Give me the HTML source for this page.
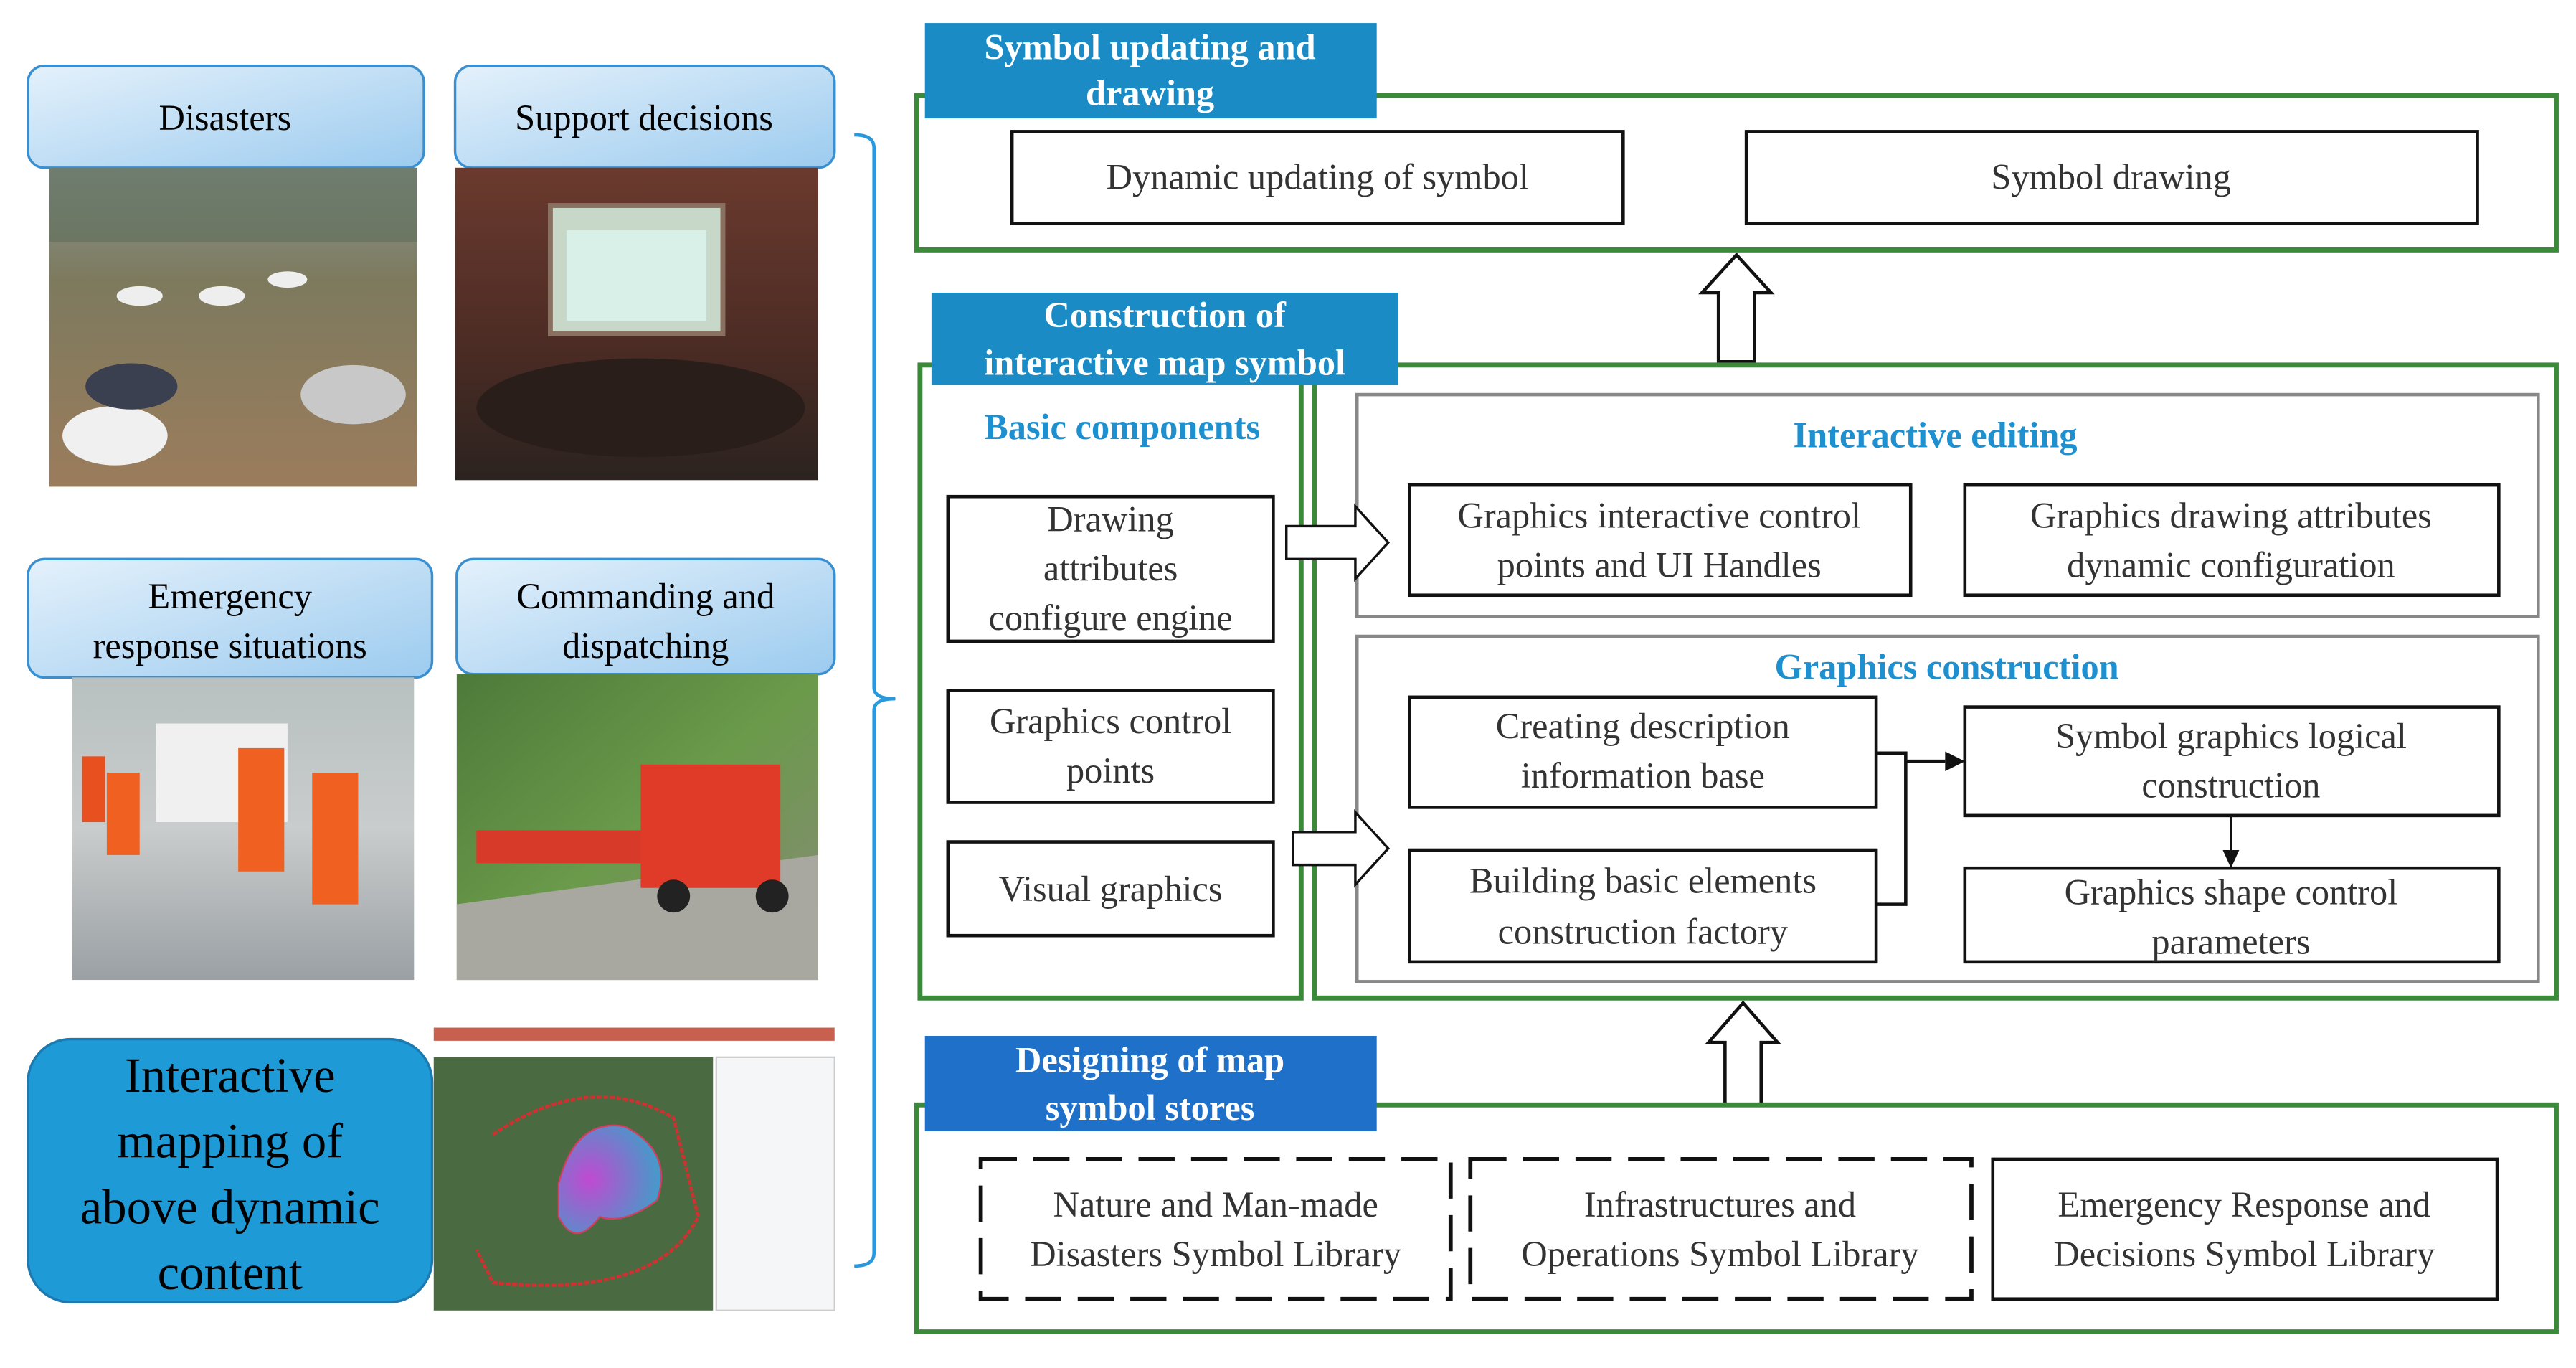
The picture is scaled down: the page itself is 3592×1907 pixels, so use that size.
<!DOCTYPE html>
<html><head><meta charset="utf-8"><style>html,body{margin:0;padding:0;background:#fff}svg{display:block}svg text{font-family:"Liberation Serif","DejaVu Serif",serif}</style></head>
<body>
<svg width="3592" height="1907" viewBox="0 0 1568 832" preserveAspectRatio="none" xmlns="http://www.w3.org/2000/svg">
<defs>
<linearGradient id="hb" x1="0" y1="0" x2="1" y2="1"><stop offset="0" stop-color="#e4f1fb"/><stop offset="1" stop-color="#9ccbef"/></linearGradient>
<linearGradient id="flood" x1="0" y1="0" x2="0" y2="1"><stop offset="0" stop-color="#8a9490"/><stop offset="0.35" stop-color="#7d7a5e"/><stop offset="1" stop-color="#9b7c5c"/></linearGradient>
<linearGradient id="room" x1="0" y1="0" x2="0" y2="1"><stop offset="0" stop-color="#6b3a2e"/><stop offset="0.6" stop-color="#4a2b24"/><stop offset="1" stop-color="#2b2320"/></linearGradient>
<linearGradient id="emer" x1="0" y1="0" x2="0" y2="1"><stop offset="0" stop-color="#b8c0c0"/><stop offset="0.5" stop-color="#c9cccc"/><stop offset="1" stop-color="#9aa0a4"/></linearGradient>
<linearGradient id="hill" x1="0" y1="0" x2="1" y2="1"><stop offset="0" stop-color="#4e7a3a"/><stop offset="0.5" stop-color="#6a9a4a"/><stop offset="1" stop-color="#8a8a7a"/></linearGradient>
<radialGradient id="blob" cx="0.3" cy="0.5" r="0.8"><stop offset="0" stop-color="#c04ad0"/><stop offset="1" stop-color="#30a8c8"/></radialGradient>
</defs>

<rect x="17" y="40" width="241" height="62" rx="10" fill="url(#hb)" stroke="#3a8fd0" stroke-width="1.5"/>
<text x="137" y="79" font-size="22" text-anchor="middle">Disasters</text>
<rect x="30" y="102" width="224" height="194" fill="url(#flood)"/>
<rect x="30" y="102" width="224" height="45" fill="#5e6e5a" opacity="0.6"/>
<ellipse cx="70" cy="265" rx="32" ry="18" fill="#f0f0f0"/><ellipse cx="80" cy="235" rx="28" ry="14" fill="#3a4050"/>
<ellipse cx="215" cy="240" rx="32" ry="18" fill="#c8c8c8"/><ellipse cx="85" cy="180" rx="14" ry="6" fill="#eee"/><ellipse cx="135" cy="180" rx="14" ry="6" fill="#eee"/><ellipse cx="175" cy="170" rx="12" ry="5" fill="#eee"/>

<rect x="277" y="40" width="231" height="62" rx="10" fill="url(#hb)" stroke="#3a8fd0" stroke-width="1.5"/>
<text x="392" y="79" font-size="22" text-anchor="middle">Support decisions</text>
<rect x="277" y="102" width="221" height="190" fill="url(#room)"/>
<rect x="335" y="125" width="105" height="78" fill="#c8d8c8" stroke="#8a7060" stroke-width="3"/>
<rect x="345" y="140" width="85" height="55" fill="#d8f0e8"/>
<ellipse cx="390" cy="248" rx="100" ry="30" fill="#2a1e1a"/>

<rect x="17" y="340" width="246" height="72" rx="10" fill="url(#hb)" stroke="#3a8fd0" stroke-width="1.5"/>
<text x="140" y="370" font-size="22" text-anchor="middle">Emergency</text>
<text x="140" y="400" font-size="22" text-anchor="middle">response  situations</text>
<rect x="44" y="412" width="208" height="184" fill="url(#emer)"/>
<rect x="95" y="440" width="80" height="60" fill="#f0f0f0"/>
<rect x="145" y="455" width="28" height="75" fill="#f06020"/><rect x="190" y="470" width="28" height="80" fill="#f06020"/><rect x="65" y="470" width="20" height="50" fill="#f06020"/><rect x="50" y="460" width="14" height="40" fill="#e85020"/>

<rect x="278" y="340" width="230" height="70" rx="10" fill="url(#hb)" stroke="#3a8fd0" stroke-width="1.5"/>
<text x="393" y="370" font-size="22" text-anchor="middle">Commanding  and</text>
<text x="393" y="400" font-size="22" text-anchor="middle">dispatching</text>
<rect x="278" y="410" width="220" height="186" fill="url(#hill)"/>
<path d="M278 550 L498 520 L498 596 L278 596Z" fill="#a8a8a0"/>
<rect x="390" y="465" width="85" height="75" fill="#e03a28"/><rect x="290" y="505" width="100" height="20" fill="#d83a2a"/>
<circle cx="410" cy="545" r="10" fill="#222"/><circle cx="470" cy="545" r="10" fill="#222"/>

<rect x="17" y="632" width="246" height="160" rx="26" fill="#1e9bd7" stroke="#1c7ab0" stroke-width="1.5"/>
<text x="140" y="664" font-size="30" text-anchor="middle">Interactive</text>
<text x="140" y="704" font-size="30" text-anchor="middle">mapping of</text>
<text x="140" y="744" font-size="30" text-anchor="middle">above dynamic</text>
<text x="140" y="784" font-size="30" text-anchor="middle">content</text>
<rect x="264" y="625" width="244" height="172" fill="#fff"/>
<rect x="264" y="625" width="244" height="8" fill="#c86050"/>
<rect x="264" y="643" width="170" height="154" fill="#4a6a42"/>
<path d="M300 690 Q360 650 410 680 L425 740 Q400 790 300 780 L290 760" fill="none" stroke="#d03030" stroke-width="2" stroke-dasharray="3 1"/>
<path d="M340 720 Q350 680 380 685 Q410 700 400 730 Q380 745 365 740 Q350 760 340 740Z" fill="url(#blob)" stroke="#d04060"/>
<rect x="436" y="643" width="72" height="154" fill="#f4f6f8" stroke="#ccc"/>

<path d="M520 82 Q532 82 532 90 L532 418 Q532 425 545 425 Q532 425 532 432 L532 762 Q532 770 520 770" fill="none" stroke="#2a98dc" stroke-width="2"/>

<rect x="558" y="58" width="998" height="94" fill="none" stroke="#3a8a3a" stroke-width="3"/>
<rect x="563" y="14" width="275" height="58" fill="#1a8bc5"/>
<text x="700" y="36" font-size="22" font-weight="bold" fill="#fff" text-anchor="middle">Symbol updating and</text>
<text x="700" y="64" font-size="22" font-weight="bold" fill="#fff" text-anchor="middle">drawing</text>
<rect x="616" y="80" width="372" height="56" fill="#fff" stroke="#111" stroke-width="2"/>
<text x="802" y="115" font-size="22" fill="#333" text-anchor="middle">Dynamic updating of symbol</text>
<rect x="1063" y="80" width="445" height="56" fill="#fff" stroke="#111" stroke-width="2"/>
<text x="1285" y="115" font-size="22" fill="#333" text-anchor="middle">Symbol drawing</text>

<path d="M1046 220 L1046 178 L1036 178 L1057 155 L1078 178 L1068 178 L1068 220Z" fill="#fff" stroke="#111" stroke-width="2"/>

<rect x="560" y="222" width="232" height="385" fill="none" stroke="#3a8a3a" stroke-width="3"/>
<rect x="800" y="222" width="756" height="385" fill="none" stroke="#3a8a3a" stroke-width="3"/>
<rect x="567" y="178" width="284" height="56" fill="#1a8bc5"/>
<text x="709" y="199" font-size="22" font-weight="bold" fill="#fff" text-anchor="middle">Construction of</text>
<text x="709" y="228" font-size="22" font-weight="bold" fill="#fff" text-anchor="middle">interactive map symbol</text>
<text x="683" y="267" font-size="22" font-weight="bold" fill="#1e90d0" text-anchor="middle">Basic components</text>
<rect x="577" y="302" width="198" height="88" fill="#fff" stroke="#111" stroke-width="2"/>
<text x="676" y="323" font-size="22" fill="#333" text-anchor="middle">Drawing</text>
<text x="676" y="353" font-size="22" fill="#333" text-anchor="middle">attributes</text>
<text x="676" y="383" font-size="22" fill="#333" text-anchor="middle">configure engine</text>
<rect x="577" y="420" width="198" height="68" fill="#fff" stroke="#111" stroke-width="2"/>
<text x="676" y="446" font-size="22" fill="#333" text-anchor="middle">Graphics control</text>
<text x="676" y="476" font-size="22" fill="#333" text-anchor="middle">points</text>
<rect x="577" y="512" width="198" height="57" fill="#fff" stroke="#111" stroke-width="2"/>
<text x="676" y="548" font-size="22" fill="#333" text-anchor="middle">Visual graphics</text>

<rect x="826" y="240" width="719" height="135" fill="none" stroke="#888" stroke-width="2"/>
<text x="1178" y="272" font-size="22" font-weight="bold" fill="#1e90d0" text-anchor="middle">Interactive editing</text>
<rect x="858" y="295" width="305" height="67" fill="#fff" stroke="#111" stroke-width="2"/>
<text x="1010" y="321" font-size="22" fill="#333" text-anchor="middle">Graphics interactive control</text>
<text x="1010" y="351" font-size="22" fill="#333" text-anchor="middle">points and UI Handles</text>
<rect x="1196" y="295" width="325" height="67" fill="#fff" stroke="#111" stroke-width="2"/>
<text x="1358" y="321" font-size="22" fill="#333" text-anchor="middle">Graphics drawing attributes</text>
<text x="1358" y="351" font-size="22" fill="#333" text-anchor="middle">dynamic configuration</text>

<rect x="826" y="387" width="719" height="210" fill="none" stroke="#888" stroke-width="2"/>
<text x="1185" y="413" font-size="22" font-weight="bold" fill="#1e90d0" text-anchor="middle">Graphics construction</text>
<rect x="858" y="424" width="284" height="67" fill="#fff" stroke="#111" stroke-width="2"/>
<text x="1000" y="449" font-size="22" fill="#333" text-anchor="middle">Creating description</text>
<text x="1000" y="479" font-size="22" fill="#333" text-anchor="middle">information base</text>
<rect x="858" y="517" width="284" height="68" fill="#fff" stroke="#111" stroke-width="2"/>
<text x="1000" y="543" font-size="22" fill="#333" text-anchor="middle">Building basic elements</text>
<text x="1000" y="574" font-size="22" fill="#333" text-anchor="middle">construction factory</text>
<rect x="1196" y="430" width="325" height="66" fill="#fff" stroke="#111" stroke-width="2"/>
<text x="1358" y="455" font-size="22" fill="#333" text-anchor="middle">Symbol graphics logical</text>
<text x="1358" y="485" font-size="22" fill="#333" text-anchor="middle">construction</text>
<rect x="1196" y="528" width="325" height="57" fill="#fff" stroke="#111" stroke-width="2"/>
<text x="1358" y="550" font-size="22" fill="#333" text-anchor="middle">Graphics shape control</text>
<text x="1358" y="580" font-size="22" fill="#333" text-anchor="middle">parameters</text>
<path d="M1142 458 L1160 458 L1160 550 L1142 550" fill="none" stroke="#111" stroke-width="2"/>
<line x1="1160" y1="463" x2="1184" y2="463" stroke="#111" stroke-width="2"/>
<path d="M1184 457 L1196 463 L1184 469Z" fill="#111"/>
<line x1="1358" y1="496" x2="1358" y2="518" stroke="#111" stroke-width="1.5"/>
<path d="M1353 517 L1358 528 L1363 517Z" fill="#111"/>

<path d="M783 320 L825 320 L825 308 L845 330 L825 352 L825 340 L783 340Z" fill="#fff" stroke="#111" stroke-width="1.5"/>
<path d="M787 506 L825 506 L825 494 L845 516 L825 538 L825 526 L787 526Z" fill="#fff" stroke="#111" stroke-width="1.5"/>

<path d="M1050 672 L1050 634 L1040 634 L1061 610 L1082 634 L1072 634 L1072 672Z" fill="#fff" stroke="#111" stroke-width="2"/>

<rect x="558" y="672" width="998" height="138" fill="none" stroke="#3a8a3a" stroke-width="3"/>
<rect x="563" y="630" width="275" height="58" fill="#1f70c8"/>
<text x="700" y="652" font-size="22" font-weight="bold" fill="#fff" text-anchor="middle">Designing of map</text>
<text x="700" y="681" font-size="22" font-weight="bold" fill="#fff" text-anchor="middle">symbol stores</text>
<rect x="597" y="705" width="286" height="85" fill="#fff" stroke="#111" stroke-width="2.5" stroke-dasharray="22 10"/>
<text x="740" y="740" font-size="22" fill="#333" text-anchor="middle">Nature and Man-made</text>
<text x="740" y="770" font-size="22" fill="#333" text-anchor="middle">Disasters Symbol Library</text>
<rect x="895" y="705" width="305" height="85" fill="#fff" stroke="#111" stroke-width="2.5" stroke-dasharray="22 10"/>
<text x="1047" y="740" font-size="22" fill="#333" text-anchor="middle">Infrastructures and</text>
<text x="1047" y="770" font-size="22" fill="#333" text-anchor="middle">Operations Symbol Library</text>
<rect x="1213" y="705" width="307" height="85" fill="#fff" stroke="#111" stroke-width="2"/>
<text x="1366" y="740" font-size="22" fill="#333" text-anchor="middle">Emergency Response and</text>
<text x="1366" y="770" font-size="22" fill="#333" text-anchor="middle">Decisions Symbol Library</text>
</svg>
</body></html>
